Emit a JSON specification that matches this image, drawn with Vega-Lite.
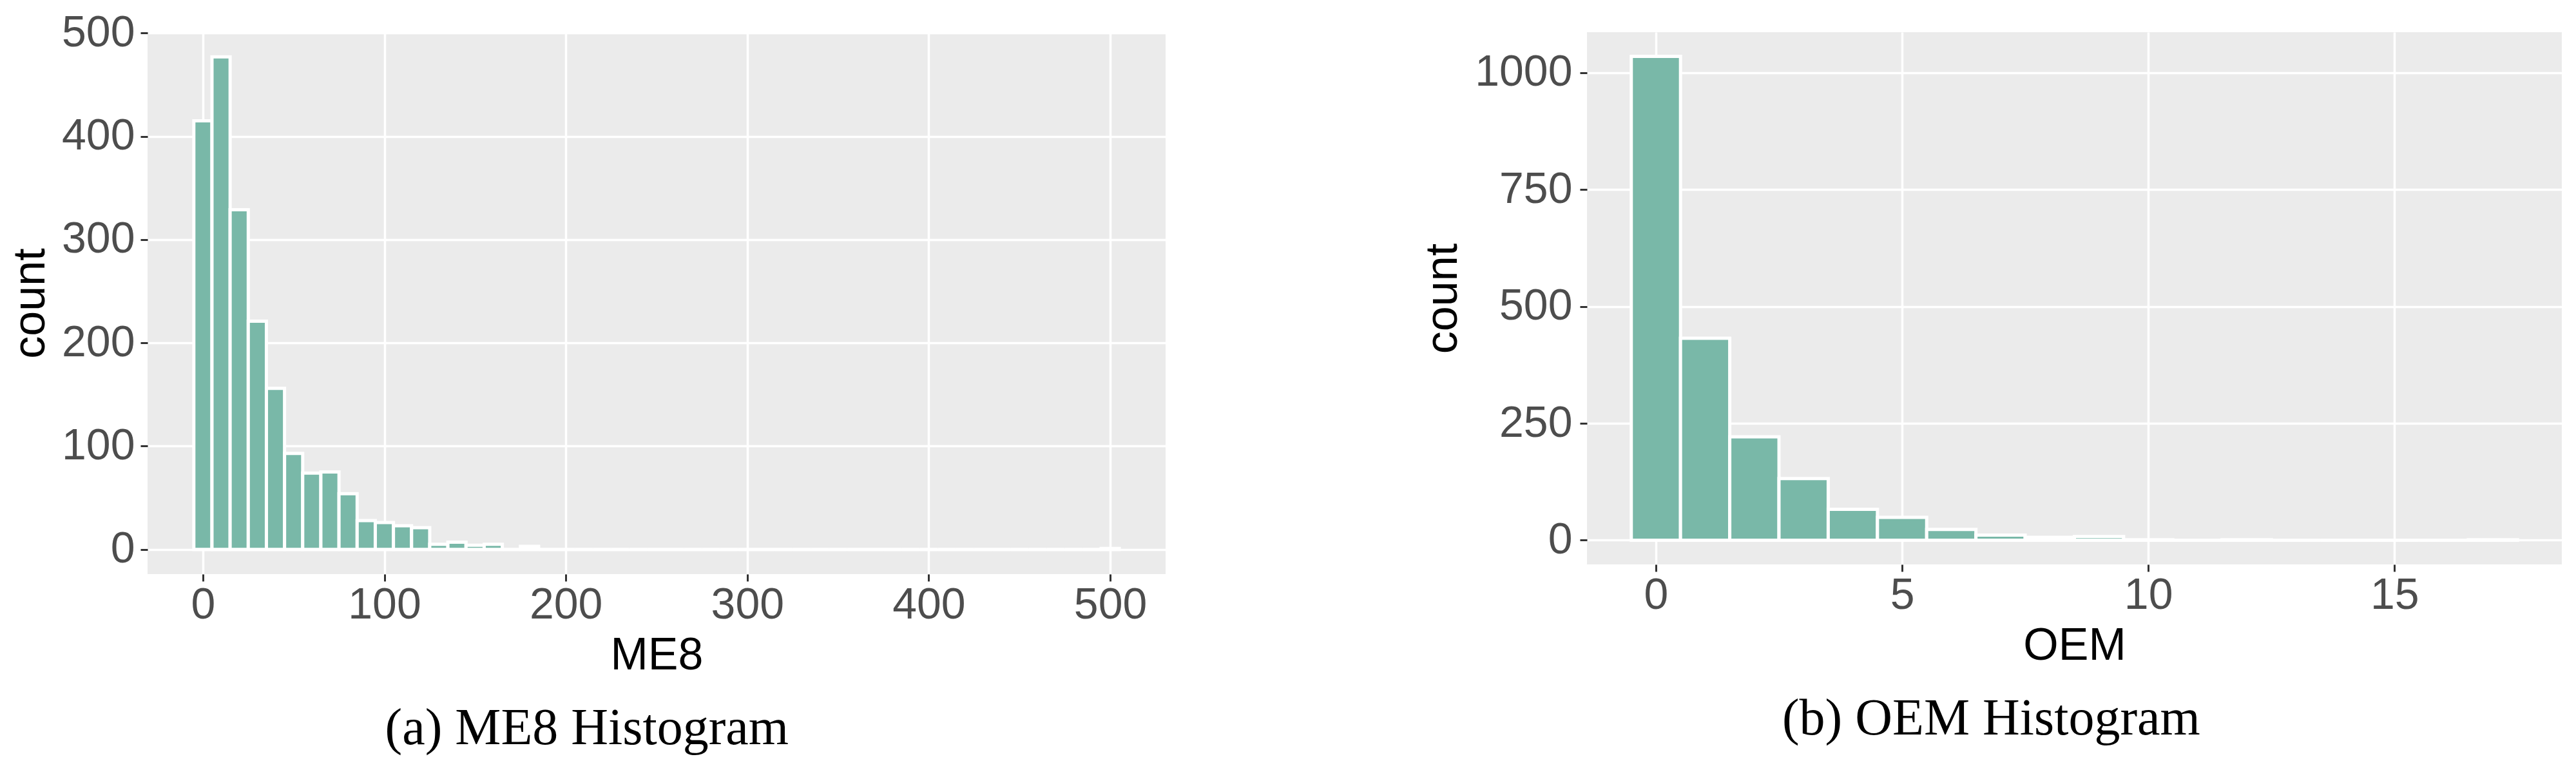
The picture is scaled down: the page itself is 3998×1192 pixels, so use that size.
{
  "$schema": "https://vega.github.io/schema/vega-lite/v6.json",
  "padding": {"left": 12, "top": 17, "right": 5, "bottom": 5},
  "background": "white",
  "spacing": 654,
  "bounds": "flush",
  "hconcat": [
    {
      "width": 1580,
      "height": 841,
      "title": {"text": "(a) ME8 Histogram", "orient": "bottom", "frame": "bounds", "anchor": "middle", "font": "Liberation Serif", "fontSize": 80, "fontWeight": "normal", "color": "black", "offset": 40},
      "data": {"values": [
        {"ME8_from": -5, "ME8_to": 5, "count": 415},
        {"ME8_from": 5, "ME8_to": 15, "count": 477},
        {"ME8_from": 15, "ME8_to": 25, "count": 329},
        {"ME8_from": 25, "ME8_to": 35, "count": 221},
        {"ME8_from": 35, "ME8_to": 45, "count": 156},
        {"ME8_from": 45, "ME8_to": 55, "count": 93},
        {"ME8_from": 55, "ME8_to": 65, "count": 74},
        {"ME8_from": 65, "ME8_to": 75, "count": 75},
        {"ME8_from": 75, "ME8_to": 85, "count": 54},
        {"ME8_from": 85, "ME8_to": 95, "count": 28},
        {"ME8_from": 95, "ME8_to": 105, "count": 26},
        {"ME8_from": 105, "ME8_to": 115, "count": 23},
        {"ME8_from": 115, "ME8_to": 125, "count": 21},
        {"ME8_from": 125, "ME8_to": 135, "count": 5},
        {"ME8_from": 135, "ME8_to": 145, "count": 7},
        {"ME8_from": 145, "ME8_to": 155, "count": 4},
        {"ME8_from": 155, "ME8_to": 165, "count": 5},
        {"ME8_from": 165, "ME8_to": 175, "count": 0},
        {"ME8_from": 175, "ME8_to": 185, "count": 3},
        {"ME8_from": 185, "ME8_to": 195, "count": 0},
        {"ME8_from": 195, "ME8_to": 205, "count": 0},
        {"ME8_from": 205, "ME8_to": 215, "count": 0},
        {"ME8_from": 215, "ME8_to": 225, "count": 0},
        {"ME8_from": 225, "ME8_to": 235, "count": 0},
        {"ME8_from": 235, "ME8_to": 245, "count": 0},
        {"ME8_from": 245, "ME8_to": 255, "count": 0},
        {"ME8_from": 255, "ME8_to": 265, "count": 0},
        {"ME8_from": 265, "ME8_to": 275, "count": 0},
        {"ME8_from": 275, "ME8_to": 285, "count": 0},
        {"ME8_from": 285, "ME8_to": 295, "count": 0},
        {"ME8_from": 295, "ME8_to": 305, "count": 0},
        {"ME8_from": 305, "ME8_to": 315, "count": 0},
        {"ME8_from": 315, "ME8_to": 325, "count": 0},
        {"ME8_from": 325, "ME8_to": 335, "count": 0},
        {"ME8_from": 335, "ME8_to": 345, "count": 0},
        {"ME8_from": 345, "ME8_to": 355, "count": 0},
        {"ME8_from": 355, "ME8_to": 365, "count": 0},
        {"ME8_from": 365, "ME8_to": 375, "count": 0},
        {"ME8_from": 375, "ME8_to": 385, "count": 0},
        {"ME8_from": 385, "ME8_to": 395, "count": 0},
        {"ME8_from": 395, "ME8_to": 405, "count": 0},
        {"ME8_from": 405, "ME8_to": 415, "count": 0},
        {"ME8_from": 415, "ME8_to": 425, "count": 0},
        {"ME8_from": 425, "ME8_to": 435, "count": 0},
        {"ME8_from": 435, "ME8_to": 445, "count": 0},
        {"ME8_from": 445, "ME8_to": 455, "count": 0},
        {"ME8_from": 455, "ME8_to": 465, "count": 0},
        {"ME8_from": 465, "ME8_to": 475, "count": 0},
        {"ME8_from": 475, "ME8_to": 485, "count": 0},
        {"ME8_from": 485, "ME8_to": 495, "count": 0},
        {"ME8_from": 495, "ME8_to": 505, "count": 1}
      ]},
      "layer": [
        {
          "mark": {"type": "bar", "fill": "#79B8A8", "stroke": "white", "strokeWidth": 5},
          "encoding": {
            "x": {"field": "ME8_from", "type": "quantitative", "scale": {"domain": [-30.5, 530.5], "nice": false, "zero": false},
                  "axis": {"values": [0, 100, 200, 300, 400, 500], "format": "d", "title": "ME8", "labelPadding": 3, "titlePadding": 10, "orient": "bottom"}},
            "x2": {"field": "ME8_to"},
            "y": {"field": "count", "type": "quantitative", "scale": {"domain": [-23.85, 500.85], "nice": false, "zero": false},
                  "axis": {"values": [0, 100, 200, 300, 400, 500], "format": "d", "title": "count", "labelPadding": 9, "titlePadding": 12, "orient": "left"}},
            "y2": {"datum": 0}
          }
        },
        {
          "mark": {"type": "bar", "opacity": 0},
          "encoding": {
            "x": {"field": "ME8_from", "type": "quantitative",
                  "axis": {"values": [50, 150, 250, 350, 450], "labels": false, "ticks": false, "title": null, "gridWidth": 1.8, "orient": "bottom"}},
            "x2": {"field": "ME8_to"},
            "y": {"field": "count", "type": "quantitative",
                  "axis": {"values": [50, 150, 250, 350, 450], "labels": false, "ticks": false, "title": null, "gridWidth": 1.8, "orient": "left"}},
            "y2": {"datum": 0}
          }
        }
      ],
      "resolve": {"axis": {"x": "independent", "y": "independent"}}
    },
    {
      "width": 1513,
      "height": 826,
      "title": {"text": "(b) OEM Histogram", "orient": "bottom", "frame": "bounds", "anchor": "middle", "font": "Liberation Serif", "fontSize": 80, "fontWeight": "normal", "color": "black", "offset": 40},
      "data": {"values": [
        {"OEM_from": -0.5, "OEM_to": 0.5, "count": 1035},
        {"OEM_from": 0.5, "OEM_to": 1.5, "count": 432},
        {"OEM_from": 1.5, "OEM_to": 2.5, "count": 221},
        {"OEM_from": 2.5, "OEM_to": 3.5, "count": 132},
        {"OEM_from": 3.5, "OEM_to": 4.5, "count": 66},
        {"OEM_from": 4.5, "OEM_to": 5.5, "count": 49},
        {"OEM_from": 5.5, "OEM_to": 6.5, "count": 23},
        {"OEM_from": 6.5, "OEM_to": 7.5, "count": 11},
        {"OEM_from": 7.5, "OEM_to": 8.5, "count": 6},
        {"OEM_from": 8.5, "OEM_to": 9.5, "count": 8},
        {"OEM_from": 9.5, "OEM_to": 10.5, "count": 1},
        {"OEM_from": 10.5, "OEM_to": 11.5, "count": 0},
        {"OEM_from": 11.5, "OEM_to": 12.5, "count": 1},
        {"OEM_from": 12.5, "OEM_to": 13.5, "count": 0},
        {"OEM_from": 13.5, "OEM_to": 14.5, "count": 0},
        {"OEM_from": 14.5, "OEM_to": 15.5, "count": 0},
        {"OEM_from": 15.5, "OEM_to": 16.5, "count": 0},
        {"OEM_from": 16.5, "OEM_to": 17.5, "count": 1}
      ]},
      "layer": [
        {
          "mark": {"type": "bar", "fill": "#79B8A8", "stroke": "white", "strokeWidth": 5},
          "encoding": {
            "x": {"field": "OEM_from", "type": "quantitative", "scale": {"domain": [-1.4, 18.4], "nice": false, "zero": false},
                  "axis": {"values": [0, 5, 10, 15], "format": "d", "title": "OEM", "labelPadding": 3, "titlePadding": 10, "orient": "bottom"}},
            "x2": {"field": "OEM_to"},
            "y": {"field": "count", "type": "quantitative", "scale": {"domain": [-51.75, 1086.75], "nice": false, "zero": false},
                  "axis": {"values": [0, 250, 500, 750, 1000], "format": "d", "title": "count", "labelPadding": 12, "titlePadding": 13, "orient": "left"}},
            "y2": {"datum": 0}
          }
        },
        {
          "mark": {"type": "bar", "opacity": 0},
          "encoding": {
            "x": {"field": "OEM_from", "type": "quantitative",
                  "axis": {"values": [2.5, 7.5, 12.5, 17.5], "labels": false, "ticks": false, "title": null, "gridWidth": 1.8, "orient": "bottom"}},
            "x2": {"field": "OEM_to"},
            "y": {"field": "count", "type": "quantitative",
                  "axis": {"values": [125, 375, 625, 875], "labels": false, "ticks": false, "title": null, "gridWidth": 1.8, "orient": "left"}},
            "y2": {"datum": 0}
          }
        }
      ],
      "resolve": {"axis": {"x": "independent", "y": "independent"}}
    }
  ],
  "config": {
    "view": {"fill": "#EBEBEB", "stroke": null},
    "axis": {
      "labelFont": "Liberation Sans", "labelFontSize": 68, "labelColor": "#4D4D4D",
      "titleFont": "Liberation Sans", "titleFontSize": 70, "titleColor": "black", "titleFontWeight": "normal",
      "tickColor": "#333333", "tickSize": 11, "tickWidth": 3,
      "domain": false, "grid": true, "gridColor": "white", "gridWidth": 3.5,
      "labelFlush": false, "labelOverlap": false
    }
  }
}
